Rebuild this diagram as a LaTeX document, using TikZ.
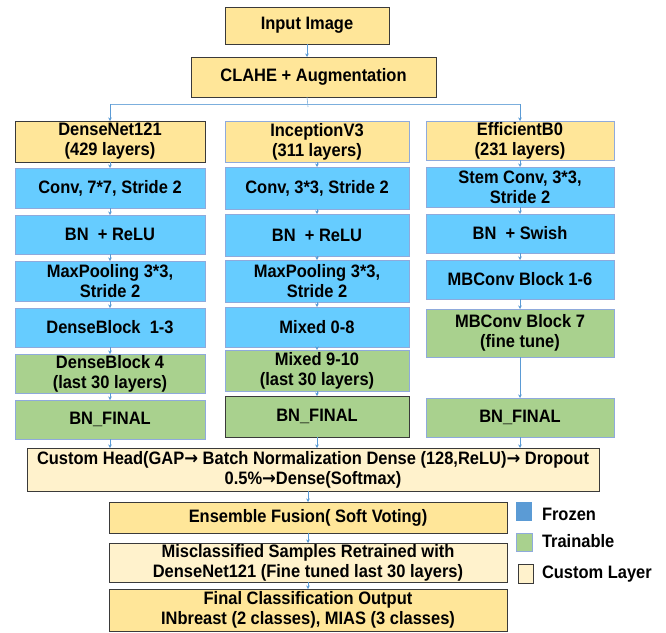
\documentclass[tikz,border=0pt]{standalone}
\usepackage{fontspec}
\setmainfont{Liberation Sans}[FakeStretch=0.915]
\newfontfamily\arrowfont{DejaVu Sans}[FakeStretch=0.915]
\usetikzlibrary{arrows.meta}

\definecolor{gold}{HTML}{FFE699}
\definecolor{cream}{HTML}{FFF2CC}
\definecolor{sky}{HTML}{66CCFF}
\definecolor{leaf}{HTML}{A9D18E}
\definecolor{steel}{HTML}{5B9BD5}
\definecolor{paleedge}{HTML}{8FAADC}
\definecolor{darkedge}{HTML}{3A3A3A}

\newcommand\rarr{{\arrowfont\bfseries →}}

\tikzset{
  base/.style={rectangle, inner sep=0pt, outer sep=0pt, align=center,
    font=\fontsize{18}{20}\selectfont\bfseries, text=black},
  goldbox/.style={base, fill=gold, draw=darkedge, line width=0.9pt},
  goldlite/.style={base, fill=gold, draw=paleedge, line width=0.9pt},
  skybox/.style={base, fill=sky, draw=paleedge, line width=0.9pt},
  leafbox/.style={base, fill=leaf, draw=paleedge, line width=0.9pt},
  leafdark/.style={base, fill=leaf, draw=darkedge, line width=0.9pt},
  creambox/.style={base, fill=cream, draw=darkedge, line width=0.9pt},
  flow/.style={draw=steel, line width=0.6pt, -{Stealth[length=3.5pt,width=3.5pt]}},
  link/.style={draw=steel!80, line width=0.6pt},
  legtext/.style={base, anchor=west},
}

% \blk{name}{x1}{y1}{x2}{y2}{style}{text}  (y measured downwards)
\newcommand\blk[7]{%
  \node[#6, minimum width={(#4-#2)*1pt}, minimum height={(#5-#3)*1pt}]
    (#1) at ({(#2+#4)/2},{-(#3+#5)/2}) {#7};}

\begin{document}
\begin{tikzpicture}[x=1pt,y=1pt]
\useasboundingbox (0,0) rectangle (666,-632);

% input stage
\blk{inp}{225}{7}{389}{44}{goldbox}{Input Image}
\blk{cla}{191}{57}{436}{97}{goldbox}{CLAHE + Augmentation}

% DenseNet121 column
\blk{d0}{15}{121}{205}{162}{goldbox}{DenseNet121\\(429 layers)}
\blk{d1}{15}{168}{205}{208}{skybox}{Conv, 7*7, Stride 2}
\blk{d2}{15}{215}{205}{254}{skybox}{BN\ \ + ReLU}
\blk{d3}{15}{261}{205}{301}{skybox}{MaxPooling 3*3,\\Stride 2}
\blk{d4}{15}{308}{205}{347}{skybox}{DenseBlock\ \ 1-3}
\blk{d5}{15}{354}{205}{393}{leafbox}{DenseBlock 4\\(last 30 layers)}
\blk{d6}{15}{400}{205}{439}{leafbox}{BN\_FINAL}

% InceptionV3 column
\blk{i0}{225}{121}{409}{162}{goldlite}{InceptionV3\\(311 layers)}
\blk{i1}{225}{167}{409}{209}{skybox}{Conv, 3*3, Stride 2}
\blk{i2}{225}{214}{409}{256}{skybox}{BN\ \ + ReLU}
\blk{i3}{225}{260}{409}{302}{skybox}{MaxPooling 3*3,\\Stride 2}
\blk{i4}{225}{307}{409}{347}{skybox}{Mixed 0-8}
\blk{i5}{225}{350}{409}{391}{leafbox}{Mixed 9-10\\(last 30 layers)}
\blk{i6}{225}{396}{409}{437}{leafdark}{BN\_FINAL}

% EfficientB0 column
\blk{e0}{426}{121}{614}{160}{goldlite}{EfficientB0\\(231 layers)}
\blk{e1}{426}{167}{614}{207}{skybox}{Stem Conv, 3*3,\\Stride 2}
\blk{e2}{426}{214}{614}{253}{skybox}{BN\ \ + Swish}
\blk{e3}{426}{260}{614}{299}{skybox}{MBConv Block 1-6}
\blk{e4}{426}{309}{614}{357}{leafbox}{MBConv Block 7\\(fine tune)}
\blk{e5}{426}{398}{614}{437}{leafbox}{BN\_FINAL}

% shared head and output stages
\blk{head}{27}{448}{599}{491}{creambox}{Custom Head(GAP\rarr{} Batch Normalization Dense (128,ReLU)\rarr{} Dropout\\0.5\%\rarr Dense(Softmax)}
\blk{ens}{109}{502}{507}{533}{goldbox}{Ensemble Fusion( Soft Voting)}
\blk{mis}{109}{543}{507}{582}{creambox}{Misclassified Samples Retrained with\\DenseNet121 (Fine tuned last 30 layers)}
\blk{fin}{109}{589}{507}{631}{goldbox}{Final Classification Output\\INbreast (2 classes), MIAS (3 classes)}

% legend
\blk{kfro}{516}{502}{532}{521}{base, fill=steel}{}
\blk{ktra}{516}{533}{532}{551}{base, fill=leaf, draw=paleedge, line width=0.8pt}{}
\blk{kcus}{518}{564}{533}{583}{base, fill=cream, draw=darkedge, line width=0.8pt}{}
\node[legtext] (lfro) at (542,-514) {Frozen};
\node[legtext] (ltra) at (542,-541) {Trainable};
\node[legtext] (lcus) at (542,-574) {Custom Layer};

% connectors: input stage and branching
\draw[flow] (inp.south) -- (inp.south |- cla.north);
\coordinate (split) at (308,-104);
\draw[link] (inp.south |- cla.south) -- ([yshift=-3pt]split);
\draw[link] (d0.north |- split) -- (e0.north |- split);
\draw[flow] (d0.north |- split) -- (d0.north);
\draw[flow] (e0.north |- split) -- (e0.north);

% connectors inside the columns
\foreach \a/\b in {d0/d1,d1/d2,d2/d3,d3/d4,d4/d5,d5/d6,
                   i0/i1,i1/i2,i2/i3,i3/i4,i4/i5,i5/i6,
                   e0/e1,e1/e2,e2/e3,e3/e4,e4/e5}
  \draw[flow] (\a.south) -- (\b.north);

% columns into the head, then down the pipeline
\foreach \c in {d6,i6,e5}
  \draw[flow] (\c.south) -- (\c.south |- head.north);
\draw[flow] (ens.north |- head.south) -- (ens.north);
\draw[flow] (ens.south) -- (mis.north);
\draw[flow] (mis.south) -- (fin.north);
\end{tikzpicture}
\end{document}
